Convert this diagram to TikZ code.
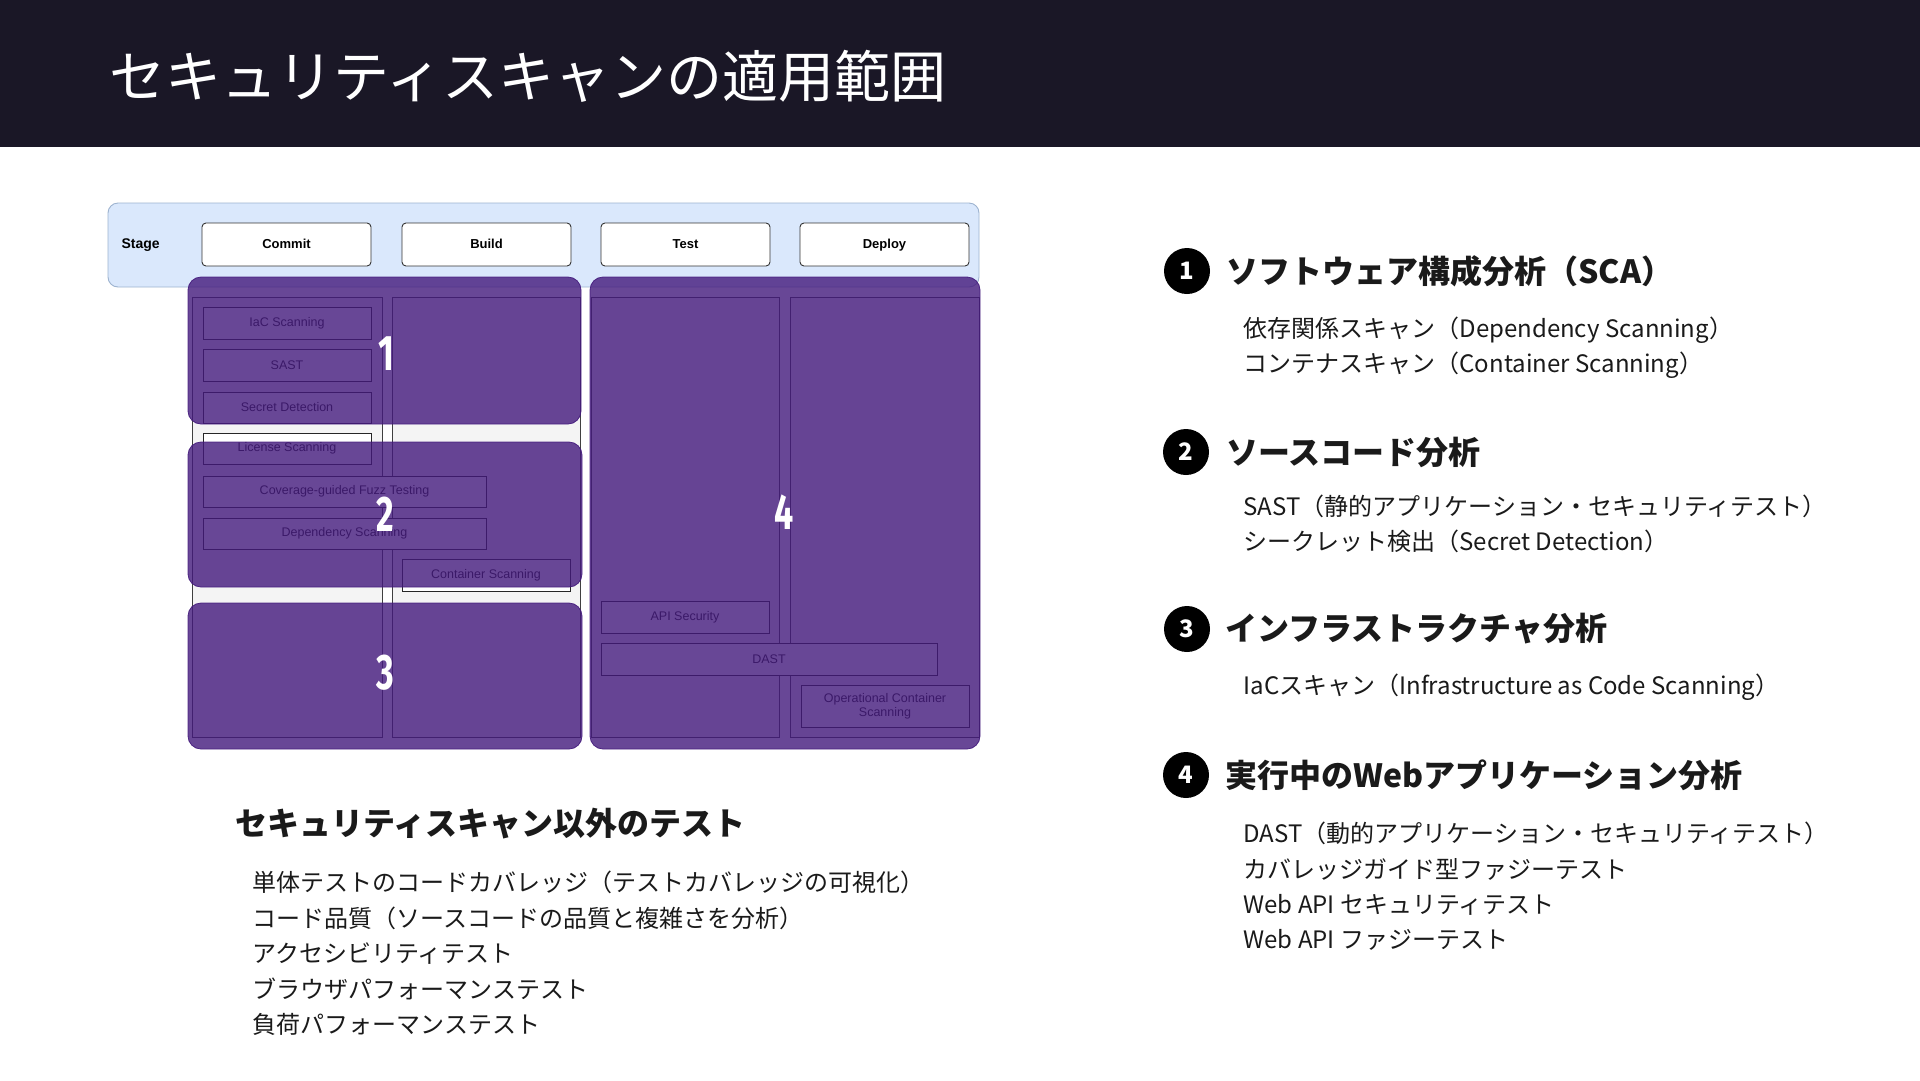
\documentclass[tikz,border=0pt]{standalone}
\usepackage{fontspec}
\setmainfont{Noto Sans CJK JP}
\newfontfamily\arial{Liberation Sans}
\newfontfamily\numf{Fira Sans}
\definecolor{titlebg}{HTML}{1A1726}
\definecolor{stagebg}{HTML}{DAE8FC}
\definecolor{stageln}{HTML}{9DB3CF}
\definecolor{cellbg}{HTML}{F4F4F4}
\definecolor{ovl}{HTML}{43197C}
\definecolor{txt}{HTML}{1A1A1A}
\tikzset{
  stagebox/.style={draw=black!80, fill=white, rounded corners=4pt, line width=0.9pt},
  cell/.style={draw=black!75, fill=cellbg, line width=0.8pt},
  inbox/.style={draw=black!85, fill=white, line width=0.8pt, inner sep=0pt},
  inlabel/.style={font=\arial\fontsize{12.5}{14}\selectfont, text=black!90, align=center},
  stagelabel/.style={font=\arial\bfseries\fontsize{13}{15}\selectfont, text=black, text height=9.5pt, text depth=2.5pt},
  overlay/.style={fill=ovl, fill opacity=0.8, draw=ovl, draw opacity=0.9, line width=0.8pt, rounded corners=13pt},
  bignum/.style={font=\numf\bfseries\fontsize{50}{50}\selectfont, text=white},
  head/.style={anchor=west, font=\bfseries\fontsize{32}{38}\selectfont, text=txt},
  item/.style={anchor=west, font=\fontsize{24}{28}\selectfont, text=txt},
  circ/.style={circle, fill=black, minimum size=46pt, inner sep=0pt, text=white, font=\bfseries\fontsize{24}{24}\selectfont}
}
\begin{document}
\begin{tikzpicture}[x=1pt,y=-1pt]
\useasboundingbox (0,0) rectangle (1920,1080);
\fill[white] (0,0) rectangle (1920,1080);
% title bar
\fill[titlebg] (0,0) rectangle (1920,147);
\node[anchor=west, text=white, font=\fontsize{56}{60}\selectfont] (title) at (106,76) {セキュリティスキャンの適用範囲};

% stage panel
\draw[fill=stagebg, draw=stageln, line width=0.9pt, rounded corners=10pt] (108,203) rectangle (979,287);
\node[stagelabel, anchor=west, font=\arial\bfseries\fontsize{14}{16}\selectfont] (stage) at (118,245) {Stage};
\node[stagebox, minimum width=169pt, minimum height=43pt] (commit) at (286.5,244.5) {};
\node[stagelabel] at (commit) {Commit};
\node[stagebox, minimum width=169pt, minimum height=43pt] (build) at (486.5,244.5) {};
\node[stagelabel] at (build) {Build};
\node[stagebox, minimum width=169pt, minimum height=43pt] (test) at (685.5,244.5) {};
\node[stagelabel] at (test) {Test};
\node[stagebox, minimum width=169pt, minimum height=43pt] (deploy) at (884.5,244.5) {};
\node[stagelabel] at (deploy) {Deploy};

% lane cells
\draw[cell] (192,297) rectangle (382,737);
\draw[cell] (392,297) rectangle (580,737);
\draw[cell] (591,297) rectangle (779,737);
\draw[cell] (790,297) rectangle (979,737);

% inner boxes
\node[inbox, minimum width=168pt, minimum height=32pt] (iac) at (287,323) {};
\node[inlabel] at (iac) {IaC Scanning};
\node[inbox, minimum width=168pt, minimum height=32pt] (sast) at (287,365) {};
\node[inlabel] at (sast) {SAST};
\node[inbox, minimum width=168pt, minimum height=31pt] (secret) at (287,407.5) {};
\node[inlabel] at (secret) {Secret Detection};
\node[inbox, minimum width=168pt, minimum height=31pt] (license) at (287,448.5) {};
\node[inlabel] at (license) {License Scanning};
\node[inbox, minimum width=283pt, minimum height=31pt] (fuzz) at (344.5,491.5) {};
\node[inlabel] at (fuzz) {Coverage-guided Fuzz Testing};
\node[inbox, minimum width=283pt, minimum height=31pt] (dep) at (344.5,533.5) {};
\node[inlabel] at (dep) {Dependency Scanning};
\node[inbox, minimum width=168pt, minimum height=32pt] (cont) at (486,575) {};
\node[inlabel] at (cont) {Container Scanning};
\node[inbox, minimum width=168pt, minimum height=32pt] (api) at (685,617) {};
\node[inlabel] at (api) {API Security};
\node[inbox, minimum width=336pt, minimum height=32pt] (dast) at (769,659) {};
\node[inlabel] at (dast) {DAST};
\node[inbox, minimum width=168pt, minimum height=42pt] (ops) at (885,706) {};
\node[inlabel] at (ops) {Operational Container\\Scanning};

% overlays
\draw[overlay] (188,277) rectangle (581,424);
\draw[overlay] (188,442) rectangle (582,587);
\draw[overlay] (188,603) rectangle (582,749);
\draw[overlay] (590,277) rectangle (980,749);
\node[bignum] (n1) at (386,354) {\scalebox{0.68}[1]{1}};
\node[bignum] (n2) at (385,514) {\scalebox{0.68}[1]{2}};
\node[bignum] (n3) at (385,673) {\scalebox{0.68}[1]{3}};
\node[bignum] (n4) at (784,512) {\scalebox{0.68}[1]{4}};

% right side
\node[circ] (c1) at (1187,271) {1};
\node[head] (h1) at (1223,271) {ソフトウェア構成分析（SCA）};
\node[item] (i11) at (1240,330) {依存関係スキャン（Dependency Scanning）};
\node[item] (i12) at (1240,365.5) {コンテナスキャン（Container Scanning）};

\node[circ] (c2) at (1186,452) {2};
\node[head] (h2) at (1223,452) {ソースコード分析};
\node[item] (i21) at (1240,506) {SAST（静的アプリケーション・セキュリティテスト）};
\node[item] (i22) at (1240,541.5) {シークレット検出（Secret Detection）};

\node[circ] (c3) at (1187,629) {3};
\node[head] (h3) at (1222,629) {インフラストラクチャ分析};
\node[item] (i31) at (1240,687.5) {IaCスキャン（Infrastructure as Code Scanning）};

\node[circ] (c4) at (1186,775) {4};
\node[head] (h4) at (1222,775) {実行中のWebアプリケーション分析};
\node[item] (i41) at (1240,833.5) {DAST（動的アプリケーション・セキュリティテスト）};
\node[item] (i42) at (1240,869) {カバレッジガイド型ファジーテスト};
\node[item] (i43) at (1240,904.5) {Web API セキュリティテスト};
\node[item] (i44) at (1240,940) {Web API ファジーテスト};

% bottom left
\node[head] (h5) at (232,824) {セキュリティスキャン以外のテスト};
\node[item] (b1) at (249,882.5) {単体テストのコードカバレッジ（テストカバレッジの可視化）};
\node[item] (b2) at (249,918) {コード品質（ソースコードの品質と複雑さを分析）};
\node[item] (b3) at (249,953.5) {アクセシビリティテスト};
\node[item] (b4) at (249,989) {ブラウザパフォーマンステスト};
\node[item] (b5) at (249,1024.5) {負荷パフォーマンステスト};
\end{tikzpicture}
\end{document}
